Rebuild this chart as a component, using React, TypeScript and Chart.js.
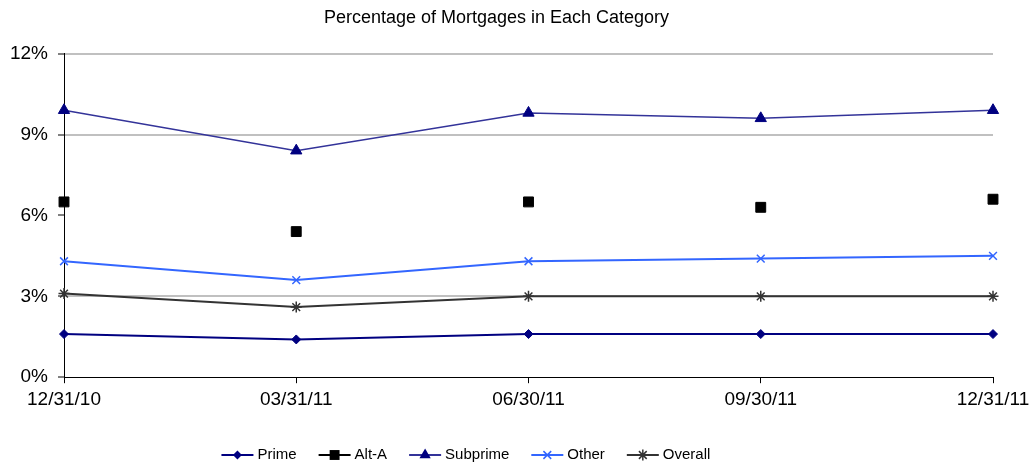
import React, { useEffect, useRef } from "react";
import { Chart, registerables } from "chart.js";

Chart.register(...registerables);

const categories = ["12/31/10", "03/31/11", "06/30/11", "09/30/11", "12/31/11"];
const prime = [1.6, 1.4, 1.6, 1.6, 1.6];
const altA = [6.5, 5.4, 6.5, 6.3, 6.6];
const subprime = [9.9, 8.4, 9.8, 9.6, 9.9];
const other = [4.3, 3.6, 4.3, 4.4, 4.5];
const overall = [3.1, 2.6, 3.0, 3.0, 3.0];
const yTicks = [0, 3, 6, 9, 12];
const hiddenGrid = [0, 6];

const FONT = '"Liberation Sans", Arial, sans-serif';

function drawMarker(ctx: CanvasRenderingContext2D, style: string, r: number, x: number, y: number) {
  ctx.beginPath();
  if (style === "rectRot") {
    ctx.moveTo(x, y - r);
    ctx.lineTo(x + r, y);
    ctx.lineTo(x, y + r);
    ctx.lineTo(x - r, y);
    ctx.closePath();
    ctx.fill();
  } else if (style === "rect") {
    const s = r * Math.SQRT1_2;
    ctx.rect(x - s, y - s, 2 * s, 2 * s);
    ctx.fill();
  } else if (style === "triangle") {
    ctx.moveTo(x, y - r);
    ctx.lineTo(x + r * 0.866, y + r * 0.5);
    ctx.lineTo(x - r * 0.866, y + r * 0.5);
    ctx.closePath();
    ctx.fill();
  } else if (style === "crossRot") {
    const s = r * Math.SQRT1_2;
    ctx.moveTo(x - s, y - s);
    ctx.lineTo(x + s, y + s);
    ctx.moveTo(x + s, y - s);
    ctx.lineTo(x - s, y + s);
    ctx.stroke();
  } else if (style === "star") {
    const s = r * Math.SQRT1_2;
    ctx.moveTo(x - s, y - s);
    ctx.lineTo(x + s, y + s);
    ctx.moveTo(x + s, y - s);
    ctx.lineTo(x - s, y + s);
    ctx.moveTo(x, y - r);
    ctx.lineTo(x, y + r);
    ctx.stroke();
  }
}

const legendPlugin = {
  id: "lineMarkerLegend",
  afterDraw(chart: any) {
    const ctx = chart.ctx;
    const dsets = chart.data.datasets;
    ctx.save();
    ctx.font = `15px ${FONT}`;
    const lineLen = 32;
    const textGap = 4;
    const itemGap = 22;
    const widths = dsets.map((d: any) => lineLen + textGap + ctx.measureText(d.label).width);
    const total = widths.reduce((a: number, b: number) => a + b, 0) + itemGap * (dsets.length - 1);
    const centerX = chart.width * 0.451;
    let x = centerX - total / 2;
    const y = 455;
    dsets.forEach((d: any, i: number) => {
      ctx.strokeStyle = d.legendLineColor || d.borderColor;
      ctx.lineWidth = 2;
      ctx.beginPath();
      ctx.moveTo(x, y);
      ctx.lineTo(x + lineLen, y);
      ctx.stroke();
      ctx.fillStyle = d.pointBackgroundColor;
      ctx.strokeStyle = d.pointBorderColor;
      ctx.lineWidth = d.pointBorderWidth || 1;
      drawMarker(ctx, d.pointStyle, d.pointRadius, x + lineLen / 2, y);
      ctx.fillStyle = "#000";
      ctx.textBaseline = "middle";
      ctx.textAlign = "left";
      ctx.fillText(d.label, x + lineLen + textGap, y);
      x += widths[i] + itemGap;
    });
    ctx.restore();
  },
};

export default function App() {
  const ref = useRef<HTMLCanvasElement>(null);
  useEffect(() => {
    if (!ref.current) return;
    const chart = new Chart(ref.current, {
      type: "line",
      data: {
        labels: categories,
        datasets: [
          {
            label: "Prime",
            data: prime,
            borderColor: "#000080",
            borderWidth: 2,
            pointStyle: "rectRot",
            pointRadius: 4.5,
            pointBackgroundColor: "#000080",
            pointBorderColor: "#000080",
            pointBorderWidth: 1,
            tension: 0,
          },
          {
            label: "Alt-A",
            data: altA,
            borderColor: "#000000",
            showLine: false,
            pointStyle: "rect",
            pointRadius: 7,
            pointBackgroundColor: "#000000",
            pointBorderColor: "#000000",
            pointBorderWidth: 1,
            legendLineColor: "#000000",
          } as any,
          {
            label: "Subprime",
            data: subprime,
            borderColor: "#333399",
            borderWidth: 1.5,
            pointStyle: "triangle",
            pointRadius: 6.5,
            pointBackgroundColor: "#000080",
            pointBorderColor: "#000080",
            pointBorderWidth: 1,
            tension: 0,
          },
          {
            label: "Other",
            data: other,
            borderColor: "#3366FF",
            borderWidth: 2,
            pointStyle: "crossRot",
            pointRadius: 5.5,
            pointBackgroundColor: "#3366FF",
            pointBorderColor: "#3366FF",
            pointBorderWidth: 1.5,
            tension: 0,
          },
          {
            label: "Overall",
            data: overall,
            borderColor: "#333333",
            borderWidth: 2,
            pointStyle: "star",
            pointRadius: 5.5,
            pointBackgroundColor: "#333333",
            pointBorderColor: "#333333",
            pointBorderWidth: 1.5,
            tension: 0,
          },
        ],
      },
      options: {
        responsive: false,
        animation: false,
        layout: { padding: { left: 0, right: 40, top: 0, bottom: 50 } },
        plugins: {
          legend: { display: false },
          tooltip: { enabled: false },
          title: {
            display: true,
            text: "Percentage of Mortgages in Each Category",
            color: "#000",
            font: { family: FONT, size: 18, weight: "normal" },
            padding: { top: 7, bottom: 25 },
          },
        },
        scales: {
          x: {
            offset: false,
            afterFit: (scale: any) => {
              scale.paddingRight = 0;
              scale.paddingLeft = 0;
            },
            grid: {
              drawOnChartArea: false,
              drawTicks: true,
              tickLength: 6,
              tickColor: "#000",
            },
            border: { display: true, color: "#000", width: 1 },
            ticks: {
              color: "#000",
              font: { family: FONT, size: 19 },
              padding: 5,
              maxRotation: 0,
              autoSkip: false,
            },
          },
          y: {
            min: 0,
            max: 12,
            afterBuildTicks: (scale: any) => {
              scale.ticks = yTicks.map((v) => ({ value: v }));
            },
            afterFit: (scale: any) => {
              scale.width = 64;
            },
            grid: {
              color: (c: any) =>
                hiddenGrid.includes(c.tick?.value) ? "rgba(0,0,0,0)" : "#C0C0C0",
              lineWidth: 2,
              tickLength: 6,
              tickColor: "#000",
              tickWidth: 1,
            },
            border: { display: true, color: "#000", width: 1 },
            ticks: {
              color: "#000",
              font: { family: FONT, size: 19 },
              padding: 10,
              callback: (v: any) => `${v}%`,
            },
          },
        },
      },
      plugins: [legendPlugin],
    });
    return () => chart.destroy();
  }, []);
  return (
    <div style={{ position: "fixed", left: 0, top: 0, width: 1033, height: 466, background: "#fff" }}>
      <canvas ref={ref} width={1033} height={466} style={{ width: 1033, height: 466 }} />
    </div>
  );
}
